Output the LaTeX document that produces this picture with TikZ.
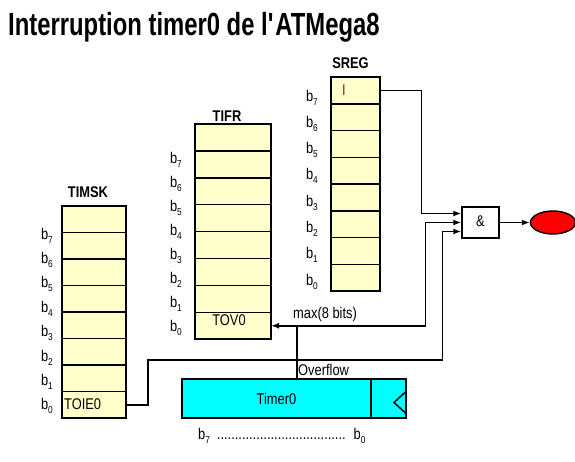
\documentclass[tikz,border=0pt]{standalone}
\usepackage{fontspec}
\setmainfont{Liberation Sans}[FakeStretch=0.83]
\newfontfamily\titlefont{Liberation Sans}[FakeStretch=0.745]
\usepackage{tikz}
\usetikzlibrary{positioning, arrows.meta, shapes.geometric, calc}

\definecolor{regfill}{HTML}{FFFFCC}
\definecolor{flagred}{HTML}{8B1A1A}
\definecolor{timercyan}{HTML}{00FFFF}
\newcommand{\bsub}[1]{b\raisebox{-4pt}{\fontsize{10}{10}\selectfont #1}}

\begin{document}
\begin{tikzpicture}[
  x=1pt, y=-1pt,
  font=\fontsize{15.5}{18}\selectfont,
  cell/.style={draw, fill=regfill, line width=1.5pt, inner sep=0pt, outer sep=0pt},
  regname/.style={font=\fontsize{15.5}{18}\selectfont\bfseries, anchor=base, inner sep=0pt},
  bitlbl/.style={anchor=base east, inner sep=0pt},
  wire/.style={line width=1.5pt},
  sig/.style={wire, -{Latex[length=8pt,width=6pt]}},
  gate/.style={draw, line width=1.5pt, minimum width=37pt, minimum height=31pt, inner sep=0pt, fill=white},
  flagout/.style={ellipse, draw, fill=red, line width=1.4pt, minimum width=45pt, minimum height=23pt, inner sep=0pt},
  timer/.style={draw, fill=timercyan, line width=1.5pt, minimum height=39pt, inner sep=0pt, outer sep=0pt}
]
  \useasboundingbox (0,0) rectangle (575,461);

  \node[anchor=base west, inner sep=0pt, font=\titlefont\fontsize{32}{36}\selectfont\bfseries] (title) at (8,35) {Interruption timer0 de l\textquotesingle ATMega8};

  % registres
  \foreach \reg/\rx/\ry/\rw/\rh in {sreg/331/77/49/26.75, tifr/195/124/76/26.9, timsk/62/206/64/26.5}
    \foreach \n in {7,...,0}
      \node[cell, anchor=north west, minimum width=\rw, minimum height=\rh] (\reg\n) at (\rx, {\ry+(7-\n)*\rh}) {};

  \foreach \reg/\lx/\ly/\ld in {sreg/318/101/26.3, tifr/182/163/24.1, timsk/53/239/24.4}
    \foreach \n in {7,...,0}
      \node[bitlbl] (lbl\reg\n) at (\lx, {\ly+(7-\n)*\ld}) {\bsub{\n}};

  \node[regname] (sregname) at (350.5,68) {SREG};
  \node[regname] (tifrname) at (227,121) {TIFR};
  \node[regname] (timskname) at (88,197) {TIMSK};

  \node[anchor=base west, inner sep=0pt, text=flagred] (flagI) at (342,95.5) {I};
  \node[anchor=base, inner sep=0pt] (flagtov) at (229,325) {TOV0};
  \node[anchor=base west, inner sep=0pt] (flagtoie) at (64,409) {TOIE0};

  % timer
  \node[timer, minimum width=189pt, anchor=north west] (tmr) at (182,379) {Timer0};
  \node[timer, minimum width=35pt, right=0pt of tmr] (clk) {};
  \draw[wire] ($(clk.east)+(0,-7)$) -- ++(-12,11) -- ++(12,11);
  \node[anchor=base west, inner sep=0pt] (range) at (198,439) {\bsub{7}\hspace{7pt}....................................\hspace{8pt}\bsub{0}};

  % porte ET
  \node[gate] (andg) at (480.5,222.5) {\raisebox{3pt}{\&}};
  \node[flagout, right=30pt of andg] (irq) {};
  \draw[sig] (andg) -- (irq);

  \draw[sig] (sreg7.east) -- ++(41.5,0) |- ($(andg.west)+(0,-9)$);
  \draw[wire, {Latex[length=8pt,width=6pt]}-{Latex[length=8pt,width=6pt]}] (tifr0.east) -- ++(154.7,0) |- (andg.west);
  \coordinate (bend) at (442.3,360);
  \draw[sig] (timsk0.east) -- ++(22,0) |- (bend) |- ($(andg.west)+(0,9)$);

  \coordinate (ovf) at ($(tmr.north west)+(115,0)$);
  \draw[wire] (ovf) -- (ovf |- tifr0.east);
  \node[anchor=base west, inner sep=0pt] (ovflbl) at ($(ovf)+(1,-4)$) {Overflow};
  \node[anchor=base west, inner sep=0pt] (maxlbl) at (293,318) {max(8 bits)};
\end{tikzpicture}
\end{document}
